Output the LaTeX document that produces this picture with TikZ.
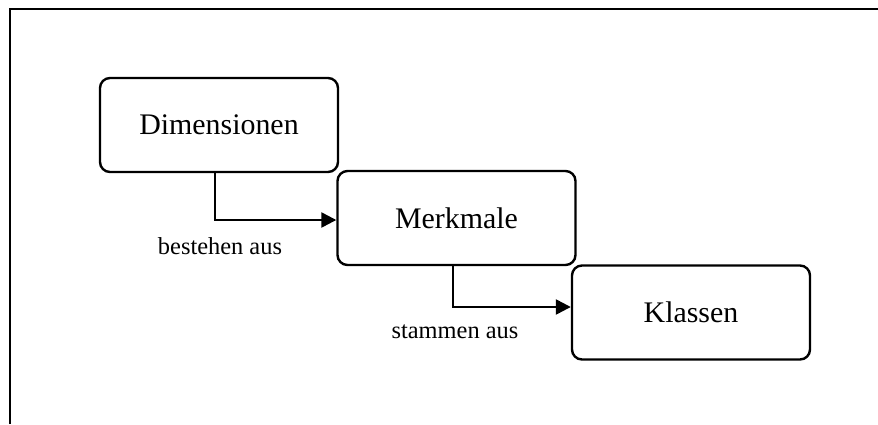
\documentclass[tikz,border=0pt]{standalone}
\usepackage{fontspec}
\setmainfont{Liberation Serif}
\usetikzlibrary{arrows.meta}
\begin{document}
\begin{tikzpicture}[x=1bp,y=-1bp,
  box/.style={draw, line width=2.4bp, rounded corners=10bp, minimum width=238bp, minimum height=94bp, inner sep=0pt, font=\fontsize{30}{34}\selectfont},
  conn/.style={line width=2.4bp, -{Triangle[length=15bp,width=15bp]}},
  lbl/.style={inner sep=0pt, font=\fontsize{24.5}{28}\selectfont}]
\useasboundingbox (0,0) rectangle (878,424);
\draw[line width=2.4bp] (10,424) -- (10,9) -- (878,9);
\node[box] (dim) at (219,125) {Dimensionen};
\node[box] (merk) at (456.5,218) {Merkmale};
\node[box] (kl) at (691,312.5) {Klassen};
\coordinate (c1) at (215,0);
\coordinate (c2) at (453,0);
\draw[conn] (dim.south -| c1) |- ([yshift=-2bp]merk.west);
\draw[conn] (merk.south -| c2) |- ([yshift=5.5bp]kl.west);
\node[lbl] (l1) at (220,246) {bestehen aus};
\node[lbl] (l2) at (455,332) {stammen aus};
\end{tikzpicture}
\end{document}
